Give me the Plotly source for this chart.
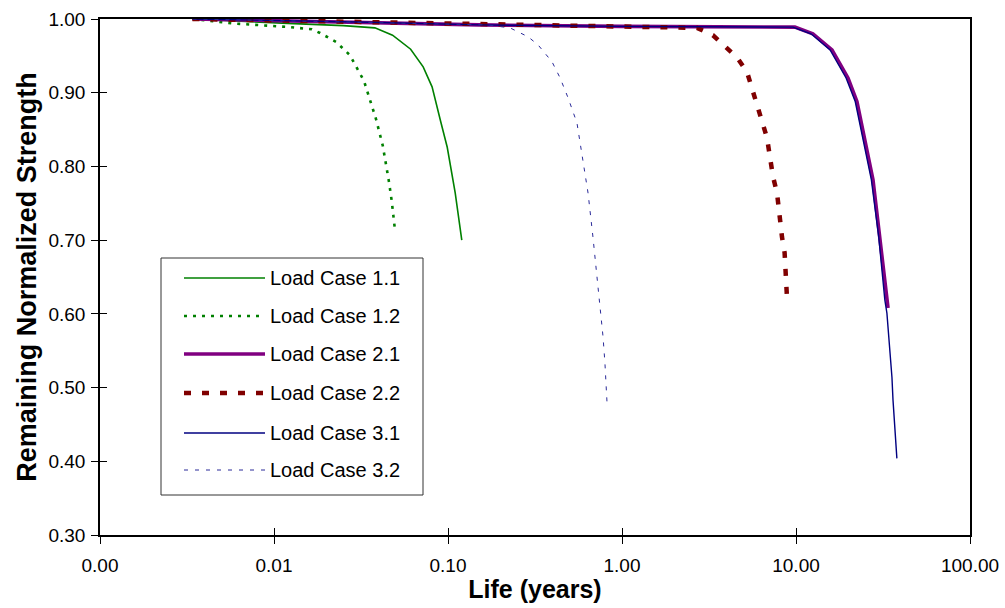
import plotly.graph_objects as go

# Remaining normalized strength vs. life for each load case
names = ["Load Case 1.1", "Load Case 1.2", "Load Case 2.1",
         "Load Case 2.2", "Load Case 3.1", "Load Case 3.2"]

life_11 = [0.0034, 0.006, 0.012, 0.025, 0.038, 0.048, 0.061, 0.072, 0.081, 0.091, 0.099, 0.110, 0.120]
str_11 = [1.000, 0.997, 0.994, 0.991, 0.988, 0.978, 0.959, 0.935, 0.908, 0.860, 0.826, 0.764, 0.700]

life_12 = [0.0034, 0.0058, 0.0124, 0.0165, 0.0184, 0.0227, 0.0273, 0.0329, 0.0386, 0.0422, 0.0458, 0.0475, 0.0495]
str_12 = [1.000, 0.994, 0.989, 0.986, 0.981, 0.969, 0.951, 0.916, 0.864, 0.828, 0.779, 0.753, 0.715]

life_21 = [0.0034, 0.03, 0.15, 1.0, 9.86, 12.5, 16.1, 19.9, 22.4, 27.7, 30.4, 33.8]
str_21 = [1.000, 0.996, 0.992, 0.990, 0.989, 0.980, 0.958, 0.920, 0.888, 0.782, 0.704, 0.608]

life_22 = [0.0034, 0.03, 0.3, 2.70, 3.33, 4.58, 5.23, 6.05, 6.46, 6.81, 7.38, 7.78, 8.31, 8.6, 8.87]
str_22 = [1.000, 0.996, 0.992, 0.988, 0.978, 0.948, 0.928, 0.879, 0.859, 0.839, 0.786, 0.764, 0.704, 0.683, 0.623]

life_31 = [0.0034, 0.03, 0.15, 1.0, 9.6, 12.2, 15.7, 19.4, 21.9, 27.1, 29.9, 32.4, 33.3, 34.7, 35.6, 36.1, 37.1, 38.0]
str_31 = [1.000, 0.996, 0.992, 0.990, 0.989, 0.980, 0.958, 0.920, 0.888, 0.782, 0.704, 0.619, 0.601, 0.551, 0.514, 0.483, 0.446, 0.404]

life_32 = [0.0034, 0.03, 0.168, 0.227, 0.288, 0.329, 0.396, 0.441, 0.490, 0.551, 0.597, 0.638, 0.681, 0.718, 0.754, 0.778, 0.798, 0.820]
str_32 = [1.000, 0.996, 0.992, 0.988, 0.976, 0.965, 0.942, 0.920, 0.893, 0.859, 0.809, 0.764, 0.704, 0.650, 0.605, 0.569, 0.533, 0.480]

x_tick_vals = [0.001, 0.01, 0.1, 1, 10, 100]
x_tick_text = ["0.00", "0.01", "0.10", "1.00", "10.00", "100.00"]

series = [(life_11, str_11), (life_12, str_12), (life_21, str_21),
          (life_22, str_22), (life_31, str_31), (life_32, str_32)]

styles = [
    dict(color="#008000", width=1.6, dash="solid"),
    dict(color="#008000", width=2.6, dash="3px,6px"),
    dict(color="#800080", width=3.6, dash="solid"),
    dict(color="#800000", width=4.5, dash="7px,11px"),
    dict(color="#000080", width=1.4, dash="solid"),
    dict(color="#2a2a99", width=1.0, dash="4px,7px"),
]

FONT = "Liberation Sans, Arial, sans-serif"
X_RANGE = [-3, 2]
Y_RANGE = [0.3, 1.0]

fig = go.Figure()
for (xs, ys), name, st in zip(series, names, styles):
    fig.add_trace(go.Scatter(x=xs, y=ys, mode="lines", name=name,
                             line=st, showlegend=False))

# Empty trace carrying the overlay axes that draw the inner half of each tick
fig.add_trace(go.Scatter(x=[None], y=[None], xaxis="x2", yaxis="y2",
                         showlegend=False, hoverinfo="skip"))

# Plot area geometry in pixels (used for the boxed legend)
W, H = 1005, 608
ML, MR, MT, MB = 100, 35, 19, 73
PW, PH = W - ML - MR, H - MT - MB


def px_x(p):
    return (p - ML) / PW


def px_y(p):
    return (H - MB - p) / PH


shapes = [dict(type="rect", xref="paper", yref="paper",
               x0=px_x(161), x1=px_x(423), y0=px_y(495), y1=px_y(258),
               line=dict(color="#333333", width=1), fillcolor="white", layer="above")]
annotations = []
entry_y = [278, 316, 354, 393, 433, 470]
for name, st, ey in zip(names, styles, entry_y):
    shapes.append(dict(type="line", xref="paper", yref="paper",
                       x0=px_x(184), x1=px_x(265), y0=px_y(ey), y1=px_y(ey),
                       line=st, layer="above"))
    annotations.append(dict(xref="paper", yref="paper", x=px_x(268), y=px_y(ey),
                            text=name, showarrow=False, xanchor="left", yanchor="middle",
                            font=dict(family=FONT, size=20, color="black")))

fig.update_layout(
    width=W, height=H,
    margin=dict(l=ML, r=MR, t=MT, b=MB, autoexpand=False),
    paper_bgcolor="white", plot_bgcolor="white",
    font=dict(family=FONT, size=19, color="black"),
    shapes=shapes, annotations=annotations,
    xaxis=dict(
        type="log", range=X_RANGE, automargin=False,
        tickvals=x_tick_vals, ticktext=x_tick_text,
        ticks="outside", ticklen=7, tickcolor="black", tickwidth=1,
        ticklabelstandoff=5,
        showline=True, linecolor="black", linewidth=1.5, mirror=True,
        showgrid=False, zeroline=False,
        title=dict(text="<b>Life (years)</b>", font=dict(size=25), standoff=6),
    ),
    yaxis=dict(
        range=Y_RANGE, dtick=0.1, tickformat=".2f", automargin=False,
        ticks="outside", ticklen=7, tickcolor="black", tickwidth=1,
        ticklabelstandoff=2,
        showline=True, linecolor="black", linewidth=1.5, mirror=True,
        showgrid=False, zeroline=False,
        title=dict(text="<b>Remaining Normalized Strength</b>", font=dict(size=27), standoff=4),
    ),
    xaxis2=dict(
        type="log", range=X_RANGE, overlaying="x", anchor="y2", side="bottom",
        automargin=False,
        tickvals=x_tick_vals, ticks="inside", ticklen=7, tickcolor="black", tickwidth=1,
        showticklabels=False, showline=False, showgrid=False, zeroline=False,
    ),
    yaxis2=dict(
        range=Y_RANGE, dtick=0.1, overlaying="y", anchor="x2", side="left",
        automargin=False,
        ticks="inside", ticklen=7, tickcolor="black", tickwidth=1,
        showticklabels=False, showline=False, showgrid=False, zeroline=False,
    ),
)

fig.write_html("out.html")
